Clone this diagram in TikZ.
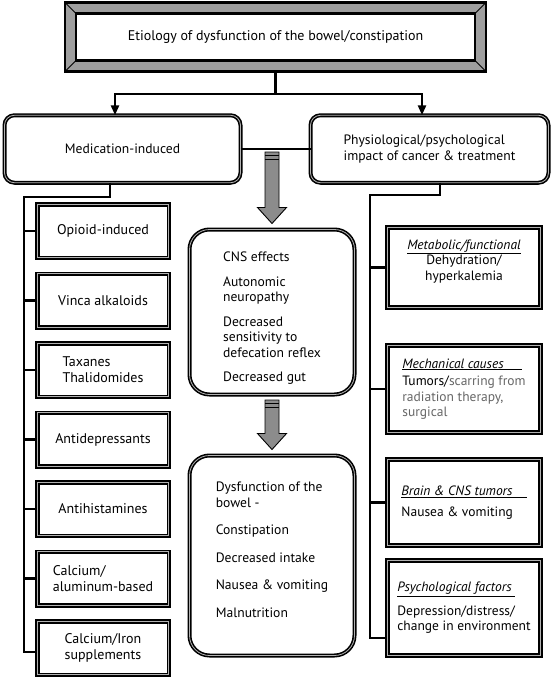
\documentclass[tikz,border=0pt]{standalone}
\usepackage{fontspec}
\setmainfont{PT Sans}
\usepackage{tikz}
\usetikzlibrary{arrows.meta, positioning, backgrounds}
\newcommand{\causehead}[2][0pt]{\underline{\textit{#2}\hspace*{#1}}}
\tikzset{
  %% Connector lines
  conn/.style={draw=black, line width=2.8pt},
  tip/.style={-{Triangle[length=10pt,width=8pt]}},
  %% Title box and its bevelled frame
  titlebox/.style={
    rectangle, draw=black, fill=white, line width=2.6pt,
    minimum width=399pt, minimum height=47pt, outer sep=0pt,
    font=\fontsize{14}{16}\selectfont
  },
  bevel/.style={draw=black, fill=black!38, line width=2.6pt},
  %% Rounded box with double border
  roundbox/.style={
    rectangle, rounded corners=10pt, draw=black, fill=white,
    line width=1.6pt, double=black!30, double distance=0.8pt,
    minimum height=67.5pt, outer sep=0pt, inner sep=4pt,
    font=\fontsize{13.6}{15.5}\selectfont
  },
  %% Medication box
  drugbox/.style={
    rectangle, draw=black, fill=white,
    line width=1.8pt, double=black!30, double distance=0.9pt,
    minimum width=131.5pt, minimum height=53.5pt, outer sep=0pt,
    inner sep=3pt, font=\fontsize{14}{16}\selectfont
  },
  %% Cause box (right column)
  causebox/.style={
    rectangle, draw=black, fill=white,
    line width=2pt, double=black!30, double distance=0.9pt,
    minimum width=153.5pt, outer sep=0pt,
    inner sep=1pt, font=\fontsize{13.5}{15.5}\selectfont
  },
  %% Grey block arrow
  garrow/.style={draw=black, fill=black!45, line width=0.9pt},
}

\begin{document}
\begin{tikzpicture}[x=1pt, y=-1pt, node distance=16pt]
  \useasboundingbox (0,0) rectangle (553,680);

  %% ---- Title ----
  \node[titlebox] (title) at (275.5,37)
       {Etiology of dysfunction of the bowel/constipation};
  \begin{scope}[on background layer]
    \draw[bevel] ([shift={(-11pt,11pt)}]title.north west) rectangle
                 ([shift={(11pt,-11pt)}]title.south east);
    \foreach \c/\dx/\dy in {north west/-11/11, north east/11/11,
                            south west/-11/-11, south east/11/-11}
      \draw[line width=1pt] (title.\c) -- ([shift={(\dx pt,\dy pt)}]title.\c);
  \end{scope}

  %% ---- Main branches ----
  \node[roundbox, minimum width=236pt] (med) at (122.5,149)
       {Medication-induced};
  \node[roundbox, minimum width=238pt, align=left] (phys) at (429.5,149)
       {Physiological/psychological\\impact of cancer \& treatment};

  \coordinate (split) at (275.5,94);
  \draw[conn] ([yshift=-11pt]title.south) -- (split);
  \draw[conn, tip] (split) -| ([xshift=-7.5pt]med.north);
  \draw[conn, tip] (split) -| ([xshift=-7.5pt]phys.north);
  \draw[conn] (med) -- (phys);

  %% ---- Medication-induced (left) ----
  \node[drugbox] (m1) at (103,231) {Opioid-induced};
  \node[drugbox, below=of m1] (m2) {Vinca alkaloids};
  \node[drugbox, below=of m2, align=left] (m3) {Taxanes\\Thalidomides};
  \node[drugbox, below=of m3] (m4) {Antidepressants};
  \node[drugbox, below=of m4] (m5) {Antihistamines};
  \node[drugbox, below=of m5, align=left] (m6) {Calcium/\\aluminum-based};
  \node[drugbox, below=of m6, align=center] (m7) {Calcium/Iron\\supplements};

  \coordinate (lspine) at (24,197);
  \draw[conn] ([xshift=-12.5pt]med.south) |- (lspine) |- ([yshift=-4pt]m7.west);
  \foreach \i in {1,...,6}
    \draw[conn] (lspine |- m\i.west) -- (m\i.west);

  %% ---- Middle column ----
  \node[roundbox, rounded corners=20pt, minimum width=165pt,
        minimum height=165pt, align=left] (cns) at (272,312)
       {\rule{0pt}{22pt}CNS effects\\[9pt]Autonomic\\neuropathy\\[9pt]Decreased\\
        sensitivity to\\defecation reflex\\[9pt]Decreased gut};
  \node[roundbox, rounded corners=20pt, minimum width=165pt,
        minimum height=200pt, align=left] (dys) at (272,555.5)
       {Dysfunction of the\\bowel -\\[12pt]Constipation\\[12pt]Decreased intake\\[12pt]
        Nausea \& vomiting\\[12pt]Malnutrition\rule[-12pt]{0pt}{12pt}};

  \coordinate (a1top) at (272,152);
  \coordinate (a2top) at (272,400);
  \foreach \s/\t in {a1top/cns, a2top/dys} {
    \draw[garrow] ([xshift=-7pt]\s) -- ([xshift=-7pt,yshift=22pt]\t.north)
      -- ([xshift=-14.5pt,yshift=22pt]\t.north) -- ([yshift=6pt]\t.north)
      -- ([xshift=14.5pt,yshift=22pt]\t.north) -- ([xshift=7pt,yshift=22pt]\t.north)
      -- ([xshift=7pt]\s) -- cycle;
    \draw[line width=0.9pt] ([xshift=-7pt,yshift=-3.5pt]\s) -- ([xshift=7pt,yshift=-3.5pt]\s);
    \draw[line width=0.9pt] ([xshift=-7pt,yshift=-7.5pt]\s) -- ([xshift=7pt,yshift=-7.5pt]\s);
  }

  %% ---- Physiological/psychological (right) ----
  \node[causebox, minimum height=80.5pt, align=center] (r1) at (464,267.5)
       {\causehead{Metabolic/functional}\\Dehydration/\\
        hyperkalemia\rule[-15pt]{0pt}{15pt}};
  \node[causebox, minimum height=87.5pt, align=left] (r2) at (464,389)
       {\causehead[18pt]{Mechanical causes}\\[2pt]
        Tumors/\textcolor{black!60}{scarring from}\\
        \textcolor{black!60}{radiation therapy,}\\\textcolor{black!60}{surgical}};
  \node[causebox, minimum height=86.5pt, align=left] (r3) at (464,502.5)
       {\causehead[14pt]{Brain \& CNS tumors}\\[6pt]Nausea \& vomiting};
  \node[causebox, minimum height=95.5pt, align=left] (r4) at (464,608)
       {\causehead[3pt]{Psychological factors}\\[8pt]Depression/distress/\\
        change in environment};

  \coordinate (rspine) at (370,195);
  \draw[conn] ([xshift=10.5pt]phys.south) |- (rspine) |- ([yshift=-30pt]r4.west);
  \foreach \i in {1,2,3}
    \draw[conn] (rspine |- r\i.west) -- (r\i.west);

\end{tikzpicture}
\end{document}
